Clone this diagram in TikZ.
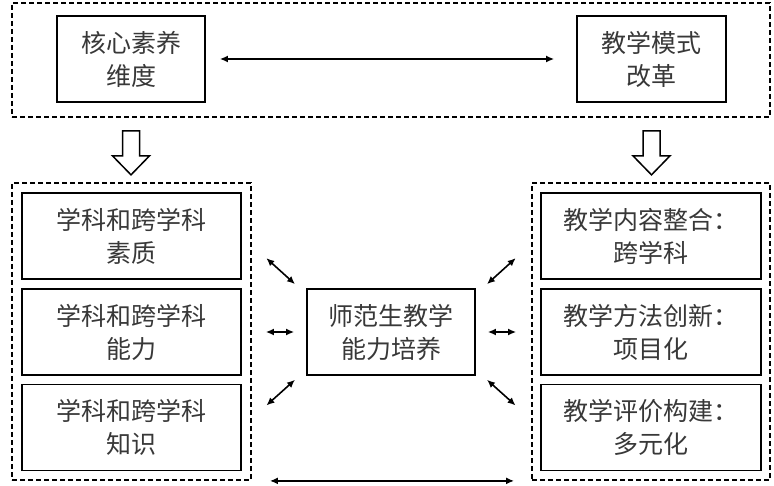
\documentclass[tikz,border=0pt]{standalone}
\usepackage{fontspec}
\newfontfamily\cjk{Noto Sans CJK SC}
\usetikzlibrary{arrows.meta}

\tikzset{
	box/.style={draw, line width=1.7pt, minimum height=86pt, inner sep=0pt, align=center,
		font=\cjk\fontsize{25}{33}\selectfont, text=black!78},
	group/.style={draw, dash pattern=on 5pt off 3pt, line width=1.8pt, inner sep=0pt},
	link/.style={{Latex[length=8pt,width=7pt]}-{Latex[length=8pt,width=7pt]}, line width=1.6pt},
}

\begin{document}
\begin{tikzpicture}[x=1pt,y=-1pt]
			\useasboundingbox (0,0) rectangle (774,486);

			\node [group, minimum width=758pt, minimum height=114pt](top) at (391,60) {};
			\node [group, minimum width=239pt, minimum height=297pt](ld) at (131.5,331.5) {};
			\node [group, minimum width=238pt, minimum height=297pt](rd) at (651,331.5) {};

			\node [box, minimum width=148pt](dim) at (131,59) {核心素养\\维度};
			\node [box, minimum width=149pt](mode) at (651.5,59) {教学模式\\改革};

			\node [box, minimum width=219pt](qual) at (131.5,236) {学科和跨学科\\素质};
			\node [box, minimum width=219pt](abil) at (131.5,332) {学科和跨学科\\能力};
			\node [box, minimum width=219pt](know) at (131.5,427.5) {学科和跨学科\\知识};

			\node [box, minimum width=220pt](cont) at (651,236) {教学内容整合：\\跨学科};
			\node [box, minimum width=220pt](meth) at (651,332) {教学方法创新：\\项目化};
			\node [box, minimum width=220pt](eval) at (651,427.5) {教学评价构建：\\多元化};

			\node [box, minimum width=168pt](core) at (391,332) {师范生教学\\能力培养};

			\draw [link, shorten <=14pt, shorten >=22pt](dim) -- (mode);
			\draw [link, shorten <=18pt, shorten >=17pt](ld.south east) -- (rd.south west);

			\draw [line width=1.5pt](dim.south) ++(-8.5,28) -- ++(17,0) -- ++(0,25) -- ++(10,0)
				-- ++(-18.5,19) -- ++(-18.5,-19) -- ++(10,0) -- cycle;
			\draw [line width=1.5pt](mode.south) ++(-8.5,28) -- ++(17,0) -- ++(0,25) -- ++(10,0)
				-- ++(-18.5,19) -- ++(-18.5,-19) -- ++(10,0) -- cycle;

			\draw [link, shorten <=33pt, shorten >=15pt](qual.east) -- (core.156);
			\draw [link, shorten <=24pt, shorten >=12pt](abil.east) -- (core.west);
			\draw [link, shorten <=33pt, shorten >=15pt](know.east) -- (core.204);

			\draw [link, shorten <=33pt, shorten >=15pt](cont.west) -- (core.24);
			\draw [link, shorten <=24pt, shorten >=12pt](meth.west) -- (core.east);
			\draw [link, shorten <=33pt, shorten >=15pt](eval.west) -- (core.336);

		\end{tikzpicture}
\end{document}
